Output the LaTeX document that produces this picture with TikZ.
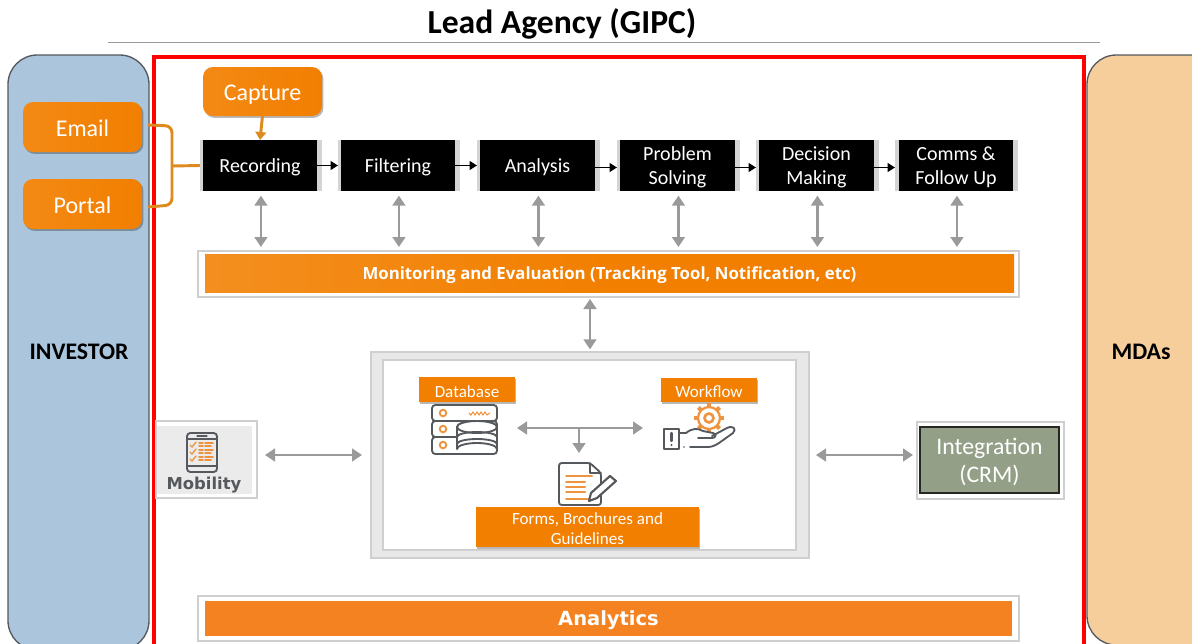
\documentclass[tikz,border=0pt]{standalone}
\usepackage{fontspec}
\setmainfont{Carlito}
\newfontfamily\opensans{Open Sans}
\newfontfamily\dejavu{DejaVu Sans}
\usetikzlibrary{arrows.meta,shadows,calc}
\definecolor{org}{HTML}{F27F00}
\definecolor{orgb}{HTML}{F58220}
\definecolor{orgline}{HTML}{DE8A1E}
\definecolor{inv}{HTML}{AAC5DC}
\definecolor{mda}{HTML}{F6CE9C}
\definecolor{arrowgray}{HTML}{9A9A9A}
\definecolor{framegray}{HTML}{CFCFCF}
\definecolor{icon}{HTML}{55585C}
\definecolor{icono}{HTML}{EE9440}
\definecolor{crm}{HTML}{949F87}
\newcommand{\bx}[6]{\node[#6,inner sep=0pt,outer sep=0pt,minimum width={(#4-#2)*0.75pt},minimum height={(#5-#3)*0.75pt}] (#1) at ({(#2+#4)/2},{(#3+#5)/2}) {};}
\newcommand{\lb}[3]{\node[#2,inner sep=0pt,align=center] (#1txt) at ($(#1)+(0,2)$) {#3};}
\tikzset{
 x=0.75pt,y=-0.75pt,
 softshadow/.style={drop shadow={shadow xshift=1.1pt,shadow yshift=-1.4pt,opacity=.28,fill=black}},
 orangebtn/.style={left color=org!92!white,right color=org,rounded corners=7.5pt,softshadow},
 orangelab/.style={fill=org,softshadow},
 btntext/.style={text=white,font=\fontsize{18}{20}\selectfont},
 labtext/.style={text=white,font=\fontsize{12.8}{15}\selectfont},
 stage/.style={fill=black},
 stagetext/.style={text=white,font=\fontsize{15}{18}\selectfont},
 stageframe/.style={fill=black!17},
 frame/.style={draw=framegray,line width=1.8pt,fill=white},
 grayarrow/.style={draw=arrowgray,line width=1.9pt,{Triangle[length=7.5pt,width=9.5pt]}-{Triangle[length=7.5pt,width=9.5pt]}},
 grayarrowend/.style={draw=arrowgray,line width=1.9pt,-{Triangle[length=7.5pt,width=9.5pt]}},
 flow/.style={draw=black,line width=1.4pt,-{Triangle[length=5.5pt,width=6.5pt]}},
 brace/.style={draw=orgline,line width=2.2pt},
 ic/.style={draw=icon,line width=1.4pt,line join=round,line cap=round},
 ico/.style={draw=icono,line width=1.2pt,line cap=round},
}
\begin{document}
\begin{tikzpicture}
\useasboundingbox (0,0) rectangle (1192,643);
\fill[white] (0,0) rectangle (1192,643);
\begin{scope}
\clip (0,0) rectangle (1192,643);
\bx{invpanel}{8}{55}{149}{650}{draw=icon,fill=inv,line width=1pt,rounded corners=22pt}
\bx{mdapanel}{1087}{55}{1240}{645}{draw=icon,fill=mda,line width=1pt,rounded corners=22pt}
\bx{redframe}{154}{57}{1084}{680}{draw=red,line width=2.4pt,fill=white}
\end{scope}
\node[font=\bfseries\fontsize{17.8}{20}\selectfont] (investor) at (79,352) {INVESTOR};
\node[font=\bfseries\fontsize{17.8}{20}\selectfont] (mdas) at (1141,352) {MDAs};
% title
\node[font=\bfseries\fontsize{25.2}{29}\selectfont] (title) at (562,24) {Lead Agency (GIPC)};
\coordinate (ruleL) at (108,42); \coordinate (ruleR) at (1100,42);
\draw[draw=gray!80,line width=.6pt] (ruleL) -- (ruleR);
% input buttons
\bx{email}{23}{102}{142}{152}{orangebtn}
\lb{email}{btntext,yshift=.6pt}{Email}
\bx{portal}{23}{179}{142}{229}{orangebtn}
\lb{portal}{btntext,yshift=.6pt}{Portal}
\bx{capture}{203}{67}{322}{116}{orangebtn}
\lb{capture}{btntext,yshift=-.8pt}{Capture}
% stages
\bx{recF}{200}{140}{322}{191}{stageframe}
\bx{filF}{338}{140}{460}{191}{stageframe}
\bx{anaF}{477}{140}{600}{191}{stageframe}
\bx{proF}{617}{140}{740}{191}{stageframe}
\bx{decF}{756}{140}{879}{191}{stageframe}
\bx{comF}{895}{140}{1018}{191}{stageframe}
\bx{rec}{203}{140}{317}{191}{stage}
\bx{fil}{341}{140}{455}{191}{stage}
\bx{ana}{480}{140}{595}{191}{stage}
\bx{pro}{620}{140}{735}{191}{stage}
\bx{dec}{759}{140}{874}{191}{stage}
\bx{com}{899}{140}{1013}{191}{stage}
\lb{rec}{stagetext}{Recording}
\lb{fil}{stagetext}{Filtering}
\lb{ana}{stagetext}{Analysis}
\lb{pro}{stagetext}{Problem\\Solving}
\lb{dec}{stagetext}{Decision\\Making}
\lb{com}{stagetext}{Comms \&\\Follow Up}
\draw[flow] (rec) -- (filF);
\draw[flow] (fil) -- (anaF);
\draw[flow] ([yshift=-1.5pt]ana.east) -- ([yshift=-1.5pt]proF.west);
\draw[flow] ([yshift=-1.5pt]pro.east) -- ([yshift=-1.5pt]decF.west);
\draw[flow] ([yshift=-1.5pt]dec.east) -- ([yshift=-1.5pt]comF.west);
% capture and brace connectors
\draw[brace,-{Triangle[length=6pt,width=8pt]}] (capture.south) -- (rec.north);
\coordinate (braceM) at (172,166);
\draw[brace,rounded corners=5pt] ($(email.east)+(6,-2)$) -- (172,126) -- (172,205) -- ($(portal.east)+(6,3)$);
\draw[brace] (braceM) -- (recF.west);
% monitoring
\bx{monF}{198}{251}{1019}{297}{frame}
\bx{mon}{205}{254}{1014}{292}{left color=org!88!white,right color=org,middle color=org}
\lb{mon}{text=white,font=\opensans\bfseries\fontsize{12.6}{15}\selectfont}{Monitoring and Evaluation (Tracking Tool, Notification, etc)}
\foreach \n in {rec,fil,ana,pro,dec,com}
 \draw[grayarrow,shorten <=3.5pt,shorten >=3pt] ([xshift=.7pt]\n.south) -- ([xshift=.7pt]\n.south |- monF.north);
% center box
\bx{cenF}{371}{352}{809}{558}{draw=framegray,fill=black!9,line width=1.5pt}
\bx{cen}{383}{360}{796}{550}{draw=framegray,fill=white,line width=1pt}
\coordinate (monc) at (590,297);
\draw[grayarrow,shorten <=1.5pt,shorten >=2pt] (monc) -- (monc |- cenF.north);
\bx{db}{419}{377}{515}{402}{orangelab}
\lb{db}{labtext}{Database}
\bx{wf}{661}{378}{757}{402}{orangelab}
\lb{wf}{labtext}{Workflow}
% arrows within center box
\coordinate (dbIcon) at (517,428); \coordinate (wfIcon) at (643,428);
\coordinate (tee) at (579,428); \coordinate (docTop) at (579,453);
\draw[grayarrow] (dbIcon) -- (wfIcon);
\draw[grayarrowend] (tee) -- (docTop);
% database icon
\draw[ic,fill=white,rounded corners=2.5pt] (432,405) rectangle (497,421);
\draw[ic,fill=white,rounded corners=2.5pt] (432,421) rectangle (497,437);
\draw[ic,fill=white,rounded corners=2.5pt] (432,437) rectangle (497,454);
\foreach \y in {413,429,445} \draw[ico,line width=1.4pt] (443,\y) circle[radius=3.3];
\draw[icono,line width=.8pt] (469,413) -- (471,415) -- (473,412) -- (475,415) -- (477,412) -- (479,415) -- (481,412) -- (483,415) -- (485,412) -- (487,415) -- (490,413);
\draw[ic,fill=white] (457,427) -- (457,449) arc[start angle=180,end angle=360,x radius=20,y radius=6] -- (497,427) arc[start angle=0,end angle=-180,x radius=20,y radius=6];
\draw[ic,fill=white] (457,427) arc[start angle=180,end angle=360,x radius=20,y radius=6] arc[start angle=0,end angle=180,x radius=20,y radius=6];
\draw[ic] (457,437) arc[start angle=180,end angle=360,x radius=20,y radius=5];
\draw[ic] (457,444) arc[start angle=180,end angle=360,x radius=20,y radius=5];
% workflow icon
\foreach \a in {0,45,...,315}
 \draw[icono,line width=3pt,line cap=butt] (709,418) ++(\a:-10.5) -- ++(\a:-4.5);
\draw[icono,line width=1.7pt,fill=white] (709,418) circle[radius=11];
\draw[icono,line width=2pt] (709,418) circle[radius=4.5];
\draw[ic] (664,429) rectangle (679,449);
\draw[ic,line width=1.6pt] (671.5,433) -- (671.5,441);
\fill[icon] (671.5,445) circle[radius=1.2];
\draw[ic,fill=white] (679,433) -- (686,433) .. controls (692,428) and (698,428) .. (703,431) -- (713,433) .. controls (717,434) and (716,438) .. (712,438) -- (698,438);
\draw[ic] (712,436) -- (727,428) .. controls (733,425) and (737,429) .. (733,433) -- (719,443) .. controls (716,445) and (712,447) .. (708,447) -- (690,447);
\fill[icon] (684,447) circle[radius=.8];
% document icon
\draw[ic,fill=white,rounded corners=2pt] (559,463) -- (590,463) -- (601,473) -- (601,505) -- (559,505) -- cycle;
\draw[ic] (590,463) -- (590,473) -- (601,473);
\foreach \y/\xe in {476/592,482/585,487/585,492/585,499/592}
 \draw[ico,line width=1.5pt] (566,\y) -- (\xe,\y);
\draw[ic,fill=white,line width=1.6pt] (591,493) -- (610,476) -- (616,481) -- (597,498) -- (589,501) -- cycle;
\bx{forms}{476}{507}{699}{547}{orangelab}
\lb{forms}{labtext}{Forms, Brochures and\\Guidelines}
% mobility
\bx{mobF}{156}{421}{257}{498}{draw=framegray,fill=white,line width=1.2pt}
\bx{mob}{157}{426}{252}{494}{fill=black!8}
\node[font=\dejavu\bfseries\fontsize{12.3}{14}\selectfont,text=icon] (moblab) at (204,485) {Mobility};
\draw[ic,rounded corners=2.5pt] (187,433) rectangle (217,472);
\draw[ic,line width=.9pt] (187,439) -- (217,439) (187,466) -- (217,466) (197,436) -- (207,436);
\foreach \y in {445,452,459}{
 \draw[ico,line width=1pt] (190,\y) -- (192,\y+2) -- (196,\y-3);
 \draw[ico,line width=1.2pt] (199,\y-2) -- (203,\y-2) (205,\y-2) -- (213,\y-2) (199,\y+1) -- (203,\y+1) (205,\y+1) -- (211,\y+1);
}
\coordinate (mobR) at (265,455); \coordinate (cenL) at (362,455);
\draw[grayarrow] (mobR) -- (cenL);
% integration
\bx{crmF}{917}{422}{1064}{499}{draw=framegray,fill=white,line width=1.2pt}
\bx{crmb}{920}{427}{1059}{493}{draw=black!75!crm,fill=crm,line width=1.3pt}
\lb{crmb}{text=white,font=\fontsize{17.8}{21}\selectfont}{Integration\\(CRM)}
\coordinate (cenR) at (816,455); \coordinate (crmL) at (913,455);
\draw[grayarrow] (cenR) -- (crmL);
% analytics
\bx{anaBF}{198}{596}{1019}{641}{frame}
\bx{anaB}{205}{601}{1012}{636}{fill=orgb}
\lb{anaB}{text=white,font=\dejavu\bfseries\fontsize{14.6}{16}\selectfont}{Analytics}
\end{tikzpicture}
\end{document}
